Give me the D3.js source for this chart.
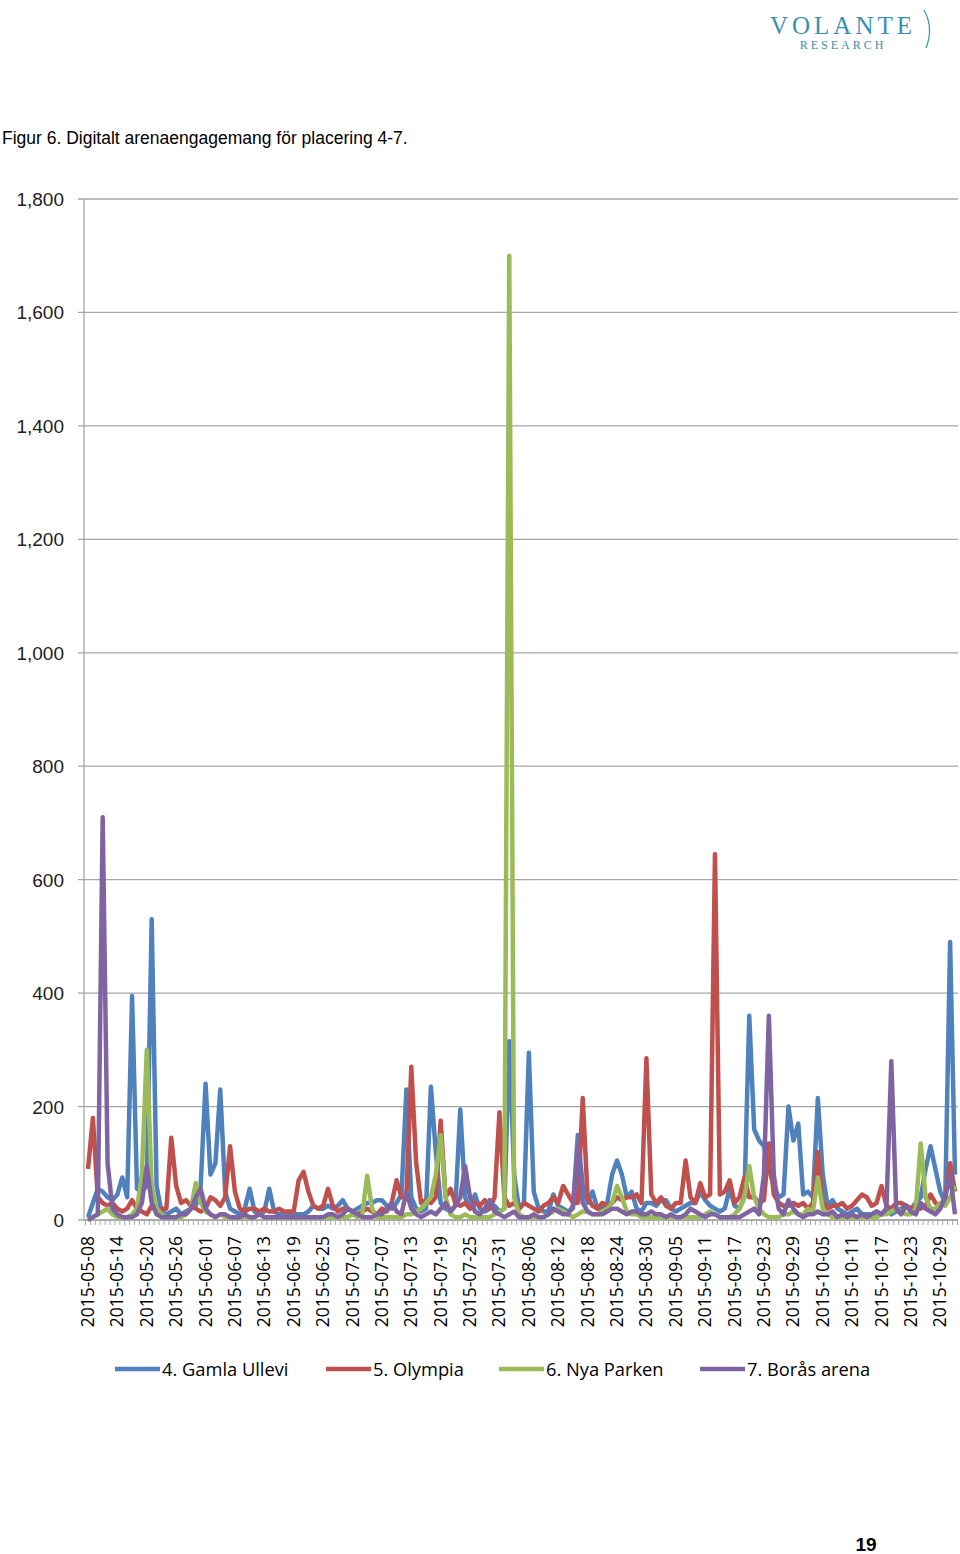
<!DOCTYPE html>
<html>
<head>
<meta charset="utf-8">
<script src="https://cdn.jsdelivr.net/npm/d3@7"></script>
<style>
  body { margin: 0; background: #fff; }
</style>
</head>
<body>
<svg id="chart" width="960" height="1554"></svg>
<script>
// daily values, starting 2015-05-08
var startDate = new Date(2015, 4, 8);
var seriesNames = ["4. Gamla Ullevi", "5. Olympia", "6. Nya Parken", "7. Borås arena"];
var seriesColors = ["#4F81BD", "#C0504D", "#9BBB59", "#8064A2"];
var yTicks = [0, 200, 400, 600, 800, 1000, 1200, 1400, 1600, 1800];

var gamlaUllevi = [
  5,30,55,50,40,35,45,75,40,395, 55,50,60,530,60,15,10,15,20,10,
  15,20,25,60,240,80,100,230,50,20, 15,10,20,55,15,10,15,55,15,10,
  10,10,10,10,10,15,25,20,20,25, 20,25,35,20,15,20,25,30,30,35,
  35,25,20,30,45,230,40,20,15,20, 235,120,30,20,15,25,195,40,20,45,
  20,15,20,25,15,20,315,80,20,30, 295,50,20,15,15,45,25,20,15,20,
  150,60,30,50,20,20,30,80,105,80, 40,50,20,15,30,30,25,35,35,20,
  15,20,25,30,30,50,35,25,20,15, 20,55,25,20,40,360,160,140,130,90,
  60,40,45,200,140,170,45,50,40,215, 80,25,35,20,15,10,15,20,10,10,
  10,15,10,20,10,15,20,25,20,30, 40,90,130,90,50,30,490,80
];
var olympia = [
  90,180,40,30,25,30,20,15,20,35, 20,15,10,25,15,20,20,145,60,30,
  35,25,20,15,20,40,35,25,40,130, 50,20,15,20,20,15,20,15,15,20,
  15,15,15,70,85,50,25,20,25,55, 25,15,20,20,15,10,15,20,15,10,
  20,15,30,70,40,40,270,100,30,35, 30,40,175,40,55,30,25,30,20,30,
  25,35,20,40,190,40,25,30,20,30, 25,20,15,25,30,40,30,60,45,30,
  30,215,40,25,20,30,25,30,40,35, 40,40,45,30,285,45,30,40,25,20,
  30,30,105,40,30,65,40,45,645,45, 50,70,30,40,75,40,40,30,35,135,
  45,30,25,25,30,25,30,20,30,120, 30,20,25,25,30,20,25,35,45,40,
  25,30,60,25,20,30,30,25,20,25, 20,25,45,30,25,40,100,50
];
var nyaParken = [
  0,5,10,15,20,10,5,5,5,10, 20,80,300,60,20,10,5,5,5,5,
  10,20,65,30,15,10,5,10,5,5, 5,5,5,5,5,10,5,5,5,5,
  5,5,5,5,5,5,5,5,5,5, 5,5,5,5,10,5,10,78,20,5,
  5,5,5,5,5,10,10,15,20,30, 40,80,150,40,10,5,5,10,5,5,
  5,5,5,10,15,20,1700,40,10,5, 5,5,5,5,10,15,20,15,10,5,
  10,15,15,10,10,15,20,30,60,40, 15,10,10,5,5,5,5,5,5,5,
  5,5,5,5,5,5,10,15,10,5, 5,5,10,20,40,95,40,20,10,5,
  5,5,10,10,15,10,10,20,15,75, 20,10,5,5,5,5,5,5,5,5,
  5,5,10,10,15,20,15,10,10,20, 135,40,20,20,30,25,40,60
];
var borasArena = [
  0,5,10,710,100,20,10,5,5,5, 10,30,95,30,10,5,5,5,5,10,
  10,20,40,55,20,10,5,10,10,5, 5,5,10,5,5,10,5,5,5,5,
  5,5,5,5,5,5,5,5,5,10, 10,5,10,20,15,10,5,5,5,10,
  10,20,30,15,10,50,20,10,5,10, 15,10,20,30,15,25,40,95,40,15,
  10,20,35,15,10,5,10,15,5,5, 5,10,5,5,10,20,15,10,10,25,
  130,30,15,10,10,10,15,20,20,15, 10,15,15,10,10,15,10,10,5,10,
  5,5,10,20,15,10,5,10,10,5, 5,5,5,5,10,15,20,10,80,360,
  80,20,10,35,20,10,5,10,10,15, 10,10,15,5,10,5,10,5,10,5,
  10,15,10,20,280,20,10,25,15,10, 30,20,15,10,20,40,80,10
];

(function(){
    var svg = d3.select("#chart");
    var allSeries = [gamlaUllevi, olympia, nyaParken, borasArena];
    var n = gamlaUllevi.length;
    var fmt = d3.timeFormat("%Y-%m-%d");

    var x = d3.scaleLinear().domain([0, n - 1]).range([88, 955]);
    var y = d3.scaleLinear().domain([0, 1800]).range([1220, 199]);

    // logo
    svg.append("text").attr("x", 843).attr("y", 34).attr("text-anchor", "middle")
        .attr("font-family", "Liberation Serif").attr("font-size", 25)
        .attr("letter-spacing", 4).attr("fill", "#3a8fb0").text("VOLANTE");
    svg.append("text").attr("x", 843).attr("y", 49).attr("text-anchor", "middle")
        .attr("font-family", "Liberation Serif").attr("font-size", 12)
        .attr("letter-spacing", 3).attr("fill", "#3a8fb0").text("RESEARCH");
    svg.append("path").attr("d", "M924,10 Q934,28 926,48").attr("fill", "none")
        .attr("stroke", "#3a8fb0").attr("stroke-width", 1.2);

    // title
    svg.append("text").attr("x", 2).attr("y", 144)
        .attr("font-family", "Liberation Sans").attr("font-size", 17.5)
        .text("Figur 6. Digitalt arenaengagemang för placering 4-7.");

    // gridlines + y labels
    svg.selectAll("line.grid").data(yTicks).enter().append("line")
        .attr("x1", 78).attr("x2", 958)
        .attr("y1", function(d){ return y(d); }).attr("y2", function(d){ return y(d); })
        .attr("stroke", "#a6a6a6").attr("stroke-width", 1.3);
    svg.selectAll("text.ylab").data(yTicks).enter().append("text")
        .attr("x", 64).attr("y", function(d){ return y(d) + 7; })
        .attr("text-anchor", "end").attr("font-family", "Liberation Sans")
        .attr("font-size", 19).attr("fill", "#222")
        .text(function(d){ return d3.format(",")(d); });

    // axes lines
    svg.append("line").attr("x1", 84).attr("x2", 84).attr("y1", 199).attr("y2", 1220)
        .attr("stroke", "#a6a6a6").attr("stroke-width", 1.3);
    svg.append("line").attr("x1", 84).attr("x2", 958).attr("y1", 1220).attr("y2", 1220)
        .attr("stroke", "#a6a6a6").attr("stroke-width", 1.3);
    svg.selectAll("line.tick").data(d3.range(n + 1)).enter().append("line")
        .attr("x1", function(d){ return x(d) - 2.45; }).attr("x2", function(d){ return x(d) - 2.45; })
        .attr("y1", 1220).attr("y2", 1225).attr("stroke", "#a6a6a6");

    // x labels every 6 days
    var labelIdx = d3.range(0, n, 6);
    svg.selectAll("text.xlab").data(labelIdx).enter().append("text")
        .attr("transform", function(d){ return "translate(" + (x(d) + 6) + ",1236) rotate(-90)"; })
        .attr("text-anchor", "end").attr("font-family", "Open Sans").attr("font-size", 17.5)
        .attr("fill", "#000")
        .text(function(d){ return fmt(d3.timeDay.offset(startDate, d)); });

    // lines
    var line = d3.line().x(function(d, i){ return x(i); }).y(function(d){ return y(d); });
    allSeries.forEach(function(s, k){
        svg.append("path").datum(s).attr("d", line).attr("fill", "none")
            .attr("stroke", seriesColors[k]).attr("stroke-width", 4.5)
            .attr("stroke-linejoin", "round");
    });

    // legend
    var legX = [115, 326, 499, 700];
    seriesNames.forEach(function(name, k){
        svg.append("line").attr("x1", legX[k]).attr("x2", legX[k] + 45)
            .attr("y1", 1369).attr("y2", 1369)
            .attr("stroke", seriesColors[k]).attr("stroke-width", 4.5);
        svg.append("text").attr("x", legX[k] + 47).attr("y", 1376)
            .attr("font-family", "Open Sans").attr("font-size", 18.3).attr("fill", "#000")
            .text(name);
    });

    // page number
    svg.append("text").attr("x", 866).attr("y", 1551).attr("text-anchor", "middle")
        .attr("font-family", "Liberation Sans Narrow, Liberation Sans").attr("font-weight", "bold")
        .attr("font-size", 19).text("19");
})();
</script>
</body>
</html>
